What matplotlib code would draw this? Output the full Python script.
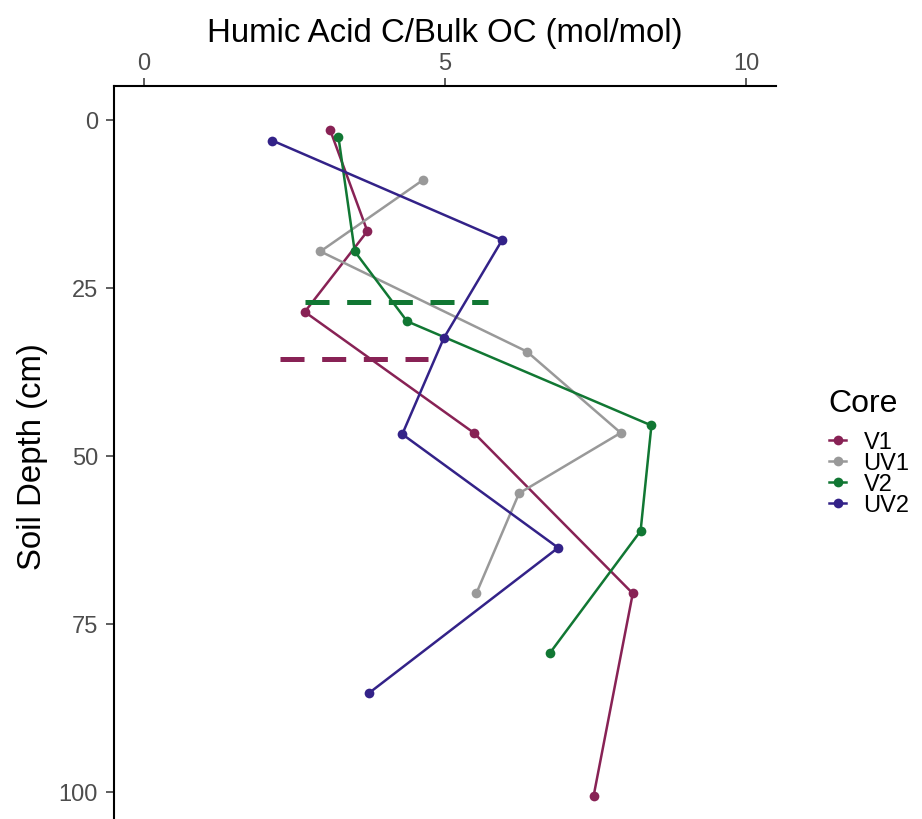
import matplotlib
matplotlib.use("Agg")
import matplotlib.pyplot as plt
from matplotlib.lines import Line2D

plt.rcParams['font.family'] = ['Liberation Sans', 'DejaVu Sans']
plt.rcParams['lines.scale_dashes'] = False

# Core order and colours
cores = ["V1", "UV1", "V2", "UV2"]
core_colors = ["#882255", "#999999", "#117733", "#332288"]

# Humic acid C / bulk OC ratio (mol/mol) and sample depth (cm) per core
v1_ratio = [3.09, 3.71, 2.67, 5.48, 8.12, 7.47]
v1_depth = [1.5, 16.6, 28.6, 46.6, 70.5, 100.6]

uv1_ratio = [4.63, 2.93, 6.36, 7.92, 6.23, 5.52]
uv1_depth = [9.0, 19.6, 34.5, 46.6, 55.6, 70.5]

v2_ratio = [3.23, 3.50, 4.37, 8.43, 8.25, 6.74]
v2_depth = [2.6, 19.6, 30.0, 45.5, 61.2, 79.4]

uv2_ratio = [2.13, 5.95, 4.98, 4.29, 6.88, 3.74]
uv2_depth = [3.1, 17.9, 32.5, 46.8, 63.7, 85.3]

# Horizontal dashed reference depths (core, depth, x-start, x-end)
ref_cores = ["V2", "V1"]
ref_depth = [27.2, 35.6]
ref_xstart = [2.68, 2.25]
ref_xend = [5.72, 4.71]

ratios = [v1_ratio, uv1_ratio, v2_ratio, uv2_ratio]
depths = [v1_depth, uv1_depth, v2_depth, uv2_depth]
color_of = dict(zip(cores, core_colors))

W, H = 922, 820
fig = plt.figure(figsize=(W / 100, H / 100), dpi=100)
ax_left, ax_right, ax_top, ax_bottom = 114, 776, 87.1, 826.3
ax = fig.add_axes([ax_left / W, 1 - ax_bottom / H,
                   (ax_right - ax_left) / W, (ax_bottom - ax_top) / H])

for name, x, y in zip(cores, ratios, depths):
    ax.plot(x, y, '-', color=color_of[name], lw=1.8, zorder=2)
    ax.plot(x, y, 'o', color=color_of[name], ms=7.0, mec='none', zorder=3)

for name, d, x0, x1 in zip(ref_cores, ref_depth, ref_xstart, ref_xend):
    ax.plot([x0, x1], [d, d], color=color_of[name], lw=3.6,
            dashes=(17.3, 12.7), solid_capstyle='butt', dash_capstyle='butt', zorder=4)

ax.set_xlim(-0.5, 10.5)
ax.set_ylim(105, -5)
ax.xaxis.tick_top()
ax.xaxis.set_label_position('top')
ax.set_xticks([0, 5, 10])
ax.set_yticks([0, 25, 50, 75, 100])
for s in ('bottom', 'right'):
    ax.spines[s].set_visible(False)
for s in ('top', 'left'):
    ax.spines[s].set_linewidth(1.5)
    ax.spines[s].set_color('black')
ax.tick_params(axis='both', length=5.5, width=1.1, color='#333333',
               labelcolor='#4D4D4D', labelsize=17)
ax.tick_params(axis='x', pad=3)
ax.tick_params(axis='y', pad=6)

ax.set_xlabel('Humic Acid C/Bulk OC (mol/mol)', fontsize=23.8, labelpad=8)
ax.set_ylabel('Soil Depth (cm)', fontsize=23.8, labelpad=8)

# Legend: title as its own text, entries as a borderless legend below it
fig.text(828 / W, 1 - 412 / H, 'Core', ha='left', va='baseline',
         fontsize=23, color='black')
handles = [Line2D([0], [0], color=c, lw=1.8, marker='o', ms=7.0, mec='none')
           for c in core_colors]
leg = fig.legend(handles, cores, loc='upper left',
                 bbox_to_anchor=(829 / W, 1 - 432 / H), frameon=False,
                 fontsize=17, handlelength=0.74, handletextpad=0.72,
                 labelspacing=-0.04, borderpad=0, borderaxespad=0)

fig.savefig('out.png', dpi=100)
